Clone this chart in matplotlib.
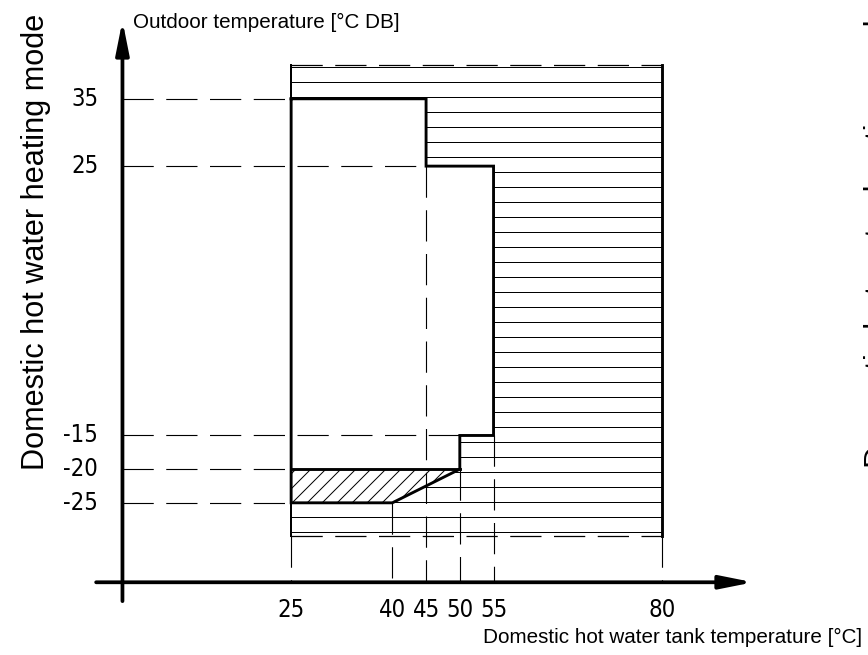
import matplotlib.pyplot as plt
from matplotlib.patches import Polygon, Rectangle

plt.rcParams['hatch.linewidth'] = 0.8
plt.rcParams['lines.scale_dashes'] = False

# axis ticks and how far each guide line runs
tank_ticks = [25, 40, 45, 50, 55, 80]
tank_drop_from = [-30, -25, 25, -20, -15, -30]
outdoor_ticks = [35, 25, -15, -20, -25]
outdoor_reach = [25, 45, 50, 25, 25]

# operating envelope
open_x = [25, 45, 45, 55, 55, 50, 50, 25]
open_y = [35, 35, 25, 25, -15, -15, -20, -20]
limited_x = [25, 50, 44, 40, 25]
limited_y = [-20, -20, -23, -25, -25]
edge_x = [25, 45, 45, 55, 55, 50, 50, 44, 40, 25, 25]
edge_y = [35, 35, 25, 25, -15, -15, -20, -23, -25, -25, 35]

# outer (hatched) frame
tank_range = [25, 80]
outdoor_range = [-30, 40]

axis_y0 = -36.8
dash = (0, (25, 10))
narrow = ['DejaVu Sans Condensed', 'Noto Sans Condensed', 'DejaVu Sans']
arial = ['Liberation Sans', 'DejaVu Sans']

fig = plt.figure(figsize=(868 / 90, 655 / 90), dpi=90)
ax = fig.add_axes([0, 0, 1, 1])
ax.set_xlim(-18.15, 110.5)
ax.set_ylim(-47.6, 49.67)
ax.axis('off')

# hatched frame
ax.add_patch(Rectangle((tank_range[0], outdoor_range[0]),
                       tank_range[1] - tank_range[0],
                       outdoor_range[1] - outdoor_range[0],
                       facecolor='white', edgecolor='black', hatch='-',
                       lw=0, zorder=1))
ax.add_patch(Polygon(list(zip(open_x, open_y)), closed=True,
                     facecolor='white', edgecolor='none', zorder=2))
ax.add_patch(Polygon(list(zip(limited_x, limited_y)), closed=True,
                     facecolor='white', edgecolor='black', hatch='//',
                     lw=0, zorder=2))

# frame edges
ax.plot([tank_range[1]] * 2, outdoor_range, color='black', lw=2.3, zorder=4)
ax.plot([tank_range[0]] * 2, outdoor_range, color='black', lw=1.6, zorder=4)
ax.plot(tank_range, [outdoor_range[1]] * 2, color='black', lw=1.0,
        linestyle=dash, zorder=4)
ax.plot(tank_range, [outdoor_range[0]] * 2, color='black', lw=1.0,
        linestyle=dash, zorder=4)

# guide lines
for y, reach in zip(outdoor_ticks, outdoor_reach):
    ax.plot([0, reach], [y, y], color='black', lw=0.9, linestyle=dash, zorder=3)
    ax.text(-3.6, y, str(y), ha='right', va='center', fontsize=19,
            family=narrow, fontstretch='condensed')
for x, start in zip(tank_ticks, tank_drop_from):
    ax.plot([x, x], [start, axis_y0], color='black', lw=0.9,
            linestyle=dash, zorder=3)
    ax.text(x, -40.9, str(x), ha='center', va='center', fontsize=19,
            family=narrow, fontstretch='condensed')

# envelope outline
ax.plot(edge_x, edge_y, color='black', lw=2.3, zorder=5,
        solid_joinstyle='miter')
ax.plot([limited_x[0], limited_x[1]], [limited_y[0], limited_y[1]],
        color='black', lw=2.3, zorder=5)

# axes arrows
arrow = dict(arrowstyle='-|>,head_length=1.1,head_width=0.22', lw=3,
             color='black', shrinkA=0, shrinkB=0, mutation_scale=20)
ax.annotate('', xy=(0, 46.6), xytext=(0, -39.6), arrowprops=arrow, zorder=6)
ax.annotate('', xy=(93.5, axis_y0), xytext=(-3.9, axis_y0), arrowprops=arrow,
            zorder=6)

# labels
ax.text(1.6, 45.5, 'Outdoor temperature [°C DB]', fontsize=16.5,
        family=arial, va='baseline')
fig.text(862 / 868, 1 - 637 / 655, 'Domestic hot water tank temperature [°C]',
         ha='right', va='center', fontsize=16.5, family=arial)
fig.text(21 / 868, 1 - 14 / 655, 'Domestic hot water heating mode',
         rotation=90, ha='left', va='top', fontsize=24.5, family=arial)
fig.text(864 / 868, 1 - 468 / 655, 'Domestic hot water heating mode',
         rotation=90, ha='left', va='bottom', fontsize=25, family=arial)

fig.savefig('out.png', dpi=90, facecolor='white')
